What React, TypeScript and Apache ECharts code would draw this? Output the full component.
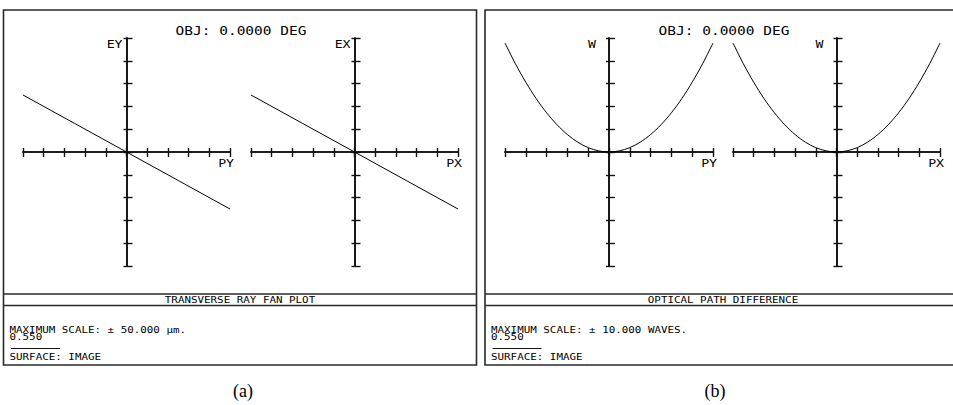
import React, { useEffect, useRef } from "react";
import * as echarts from "echarts";

// Normalised pupil coordinates for the transverse ray fans
const fanPupil = [-1, -0.5, 0, 0.5, 1];
// Transverse ray error (µm) along the tangential and sagittal fans
const eyValues = [25, 12.5, 0, -12.5, -25];
const exValues = [25, 12.5, 0, -12.5, -25];

// Normalised pupil coordinates for the OPD fans
const opdPupil = [-1, -0.9, -0.8, -0.7, -0.6, -0.5, -0.4, -0.3, -0.2, -0.1, 0, 0.1, 0.2, 0.3, 0.4, 0.5, 0.6, 0.7, 0.8, 0.9, 1];
// Optical path difference (waves) along the tangential and sagittal fans
const wyValues = [9.56, 7.74, 6.12, 4.68, 3.44, 2.39, 1.53, 0.86, 0.38, 0.1, 0, 0.1, 0.38, 0.86, 1.53, 2.39, 3.44, 4.68, 6.12, 7.74, 9.56];
const wxValues = [9.56, 7.74, 6.12, 4.68, 3.44, 2.39, 1.53, 0.86, 0.38, 0.1, 0, 0.1, 0.38, 0.86, 1.53, 2.39, 3.44, 4.68, 6.12, 7.74, 9.56];

// Axis scales
const pupilMax = 1;
const pupilStep = 0.2;
const rayFanMax = 50;
const rayFanStep = 10;
const opdMax = 10;
const opdStep = 2;

// Texts
const headerText = "OBJ: 0.0000 DEG";
const rayFanTitle = "TRANSVERSE RAY FAN PLOT";
const opdTitle = "OPTICAL PATH DIFFERENCE";
const rayFanScale = "MAXIMUM SCALE: \u00B1 50.000 \u00B5m.";
const opdScale = "MAXIMUM SCALE: \u00B1 10.000 WAVES.";
const wavelengthText = "0.550";
const surfaceText = "SURFACE: IMAGE";
const fanAxisNames = [
  ["EY", "PY"],
  ["EX", "PX"],
  ["W", "PY"],
  ["W", "PX"],
];
const captions = ["(a)", "(b)"];

const MONO = "'DejaVu Sans Mono', monospace";
const INK = "#000";
const FRAME = "#2a2a2a";

function pairs(xs: number[], ys: number[]) {
  return xs.map((x, i) => [x, ys[i]]);
}

function txt(
  text: string,
  x: number,
  y: number,
  size: number,
  align: "left" | "center" | "right",
  scaleX: number,
  family: string = MONO
) {
  return {
    type: "text",
    x,
    y,
    scaleX,
    silent: true,
    style: {
      text,
      fontFamily: family,
      fontSize: size,
      fill: INK,
      textAlign: align,
      textVerticalAlign: "middle",
    },
  };
}

function hline(x1: number, x2: number, y: number, width = 1.6, color = FRAME) {
  return {
    type: "line",
    silent: true,
    shape: { x1, y1: y, x2, y2: y },
    style: { stroke: color, lineWidth: width },
  };
}

export default function App() {
  const ref = useRef<HTMLDivElement>(null);

  useEffect(() => {
    if (!ref.current) return;
    const chart = echarts.init(ref.current, null, { renderer: "svg" });

    const plotTop = 38;
    const plotHeight = 228;
    const plots = [
      { left: 23, width: 207, max: rayFanMax, step: rayFanStep, xs: fanPupil, ys: eyValues, smooth: false },
      { left: 251, width: 207, max: rayFanMax, step: rayFanStep, xs: fanPupil, ys: exValues, smooth: false },
      { left: 505, width: 208, max: opdMax, step: opdStep, xs: opdPupil, ys: wyValues, smooth: true },
      { left: 733, width: 207, max: opdMax, step: opdStep, xs: opdPupil, ys: wxValues, smooth: true },
    ];

    const axisLineStyle = { color: "#111", width: 1.6 };
    const tickStyle = { color: "#111", width: 1.4 };

    const grid: any[] = [];
    const xAxis: any[] = [];
    const yAxis: any[] = [];
    const series: any[] = [];

    plots.forEach((p, i) => {
      grid.push({ left: p.left, top: plotTop, width: p.width, height: plotHeight });
      const xBase = {
        gridIndex: i,
        type: "value",
        min: -pupilMax,
        max: pupilMax,
        interval: pupilStep,
        axisLabel: { show: false },
        splitLine: { show: false },
      };
      // downward and upward ticks on the pupil axis
      xAxis.push({
        ...xBase,
        position: "bottom",
        axisLine: { onZero: true, onZeroAxisIndex: 2 * i, lineStyle: axisLineStyle },
        axisTick: { show: true, length: 5, lineStyle: tickStyle },
      });
      xAxis.push({
        ...xBase,
        position: "top",
        axisLine: { onZero: true, onZeroAxisIndex: 2 * i, lineStyle: axisLineStyle },
        axisTick: { show: true, length: 4, lineStyle: tickStyle },
      });
      const yBase = {
        gridIndex: i,
        type: "value",
        min: -p.max,
        max: p.max,
        interval: p.step,
        axisLabel: { show: false },
        splitLine: { show: false },
      };
      // right-hand and left-hand ticks on the aberration axis
      yAxis.push({
        ...yBase,
        position: "right",
        axisLine: { onZero: true, onZeroAxisIndex: 2 * i, lineStyle: axisLineStyle },
        axisTick: { show: true, length: 6, lineStyle: tickStyle },
      });
      yAxis.push({
        ...yBase,
        position: "left",
        axisLine: { onZero: true, onZeroAxisIndex: 2 * i, lineStyle: axisLineStyle },
        axisTick: { show: true, length: 3, lineStyle: tickStyle },
      });
      series.push({
        type: "line",
        xAxisIndex: 2 * i,
        yAxisIndex: 2 * i,
        data: pairs(p.xs, p.ys),
        symbol: "none",
        smooth: p.smooth ? 0.3 : false,
        lineStyle: { color: INK, width: 1 },
        silent: true,
      });
    });

    // axis names placed beside the axis ends
    const nameEls: any[] = [];
    plots.forEach((p, i) => {
      const centerX = p.left + p.width / 2;
      const [yName, xName] = fanAxisNames[i];
      const yNameGap = i >= 2 ? 13 : 4;
      nameEls.push(txt(yName, centerX - yNameGap, 44, 11, "right", 1.2));
      nameEls.push(txt(xName, p.left + p.width + 4, 163.5, 11, "right", 1.2));
    });

    const panels = [
      { x0: 3.5, x1: 476.5, cx: 240, title: rayFanTitle, scale: rayFanScale, textX: 9.5, capX: 243 },
      { x0: 485, x1: 990, cx: 723, title: opdTitle, scale: opdScale, textX: 491, capX: 715 },
    ];
    const panelEls: any[] = [];
    panels.forEach((pn, k) => {
      panelEls.push({
        type: "rect",
        silent: true,
        shape: { x: pn.x0, y: 10, width: pn.x1 - pn.x0, height: 355 },
        style: { fill: "none", stroke: FRAME, lineWidth: 1.6 },
      });
      panelEls.push(hline(pn.x0, pn.x1, 294));
      panelEls.push(hline(pn.x0, pn.x1, 305.5));
      panelEls.push(txt(headerText, pn.cx + 1, 31.5, 11.5, "center", 1.26));
      panelEls.push(txt(pn.title, pn.cx, 300, 8, "center", 1.36));
      panelEls.push(txt(pn.scale, pn.textX, 330, 8, "left", 1.36));
      panelEls.push(txt(wavelengthText, pn.textX, 337.5, 8, "left", 1.36));
      panelEls.push(hline(pn.textX + 1.5, pn.textX + 50.5, 348.5, 1.2, "#111"));
      panelEls.push(txt(surfaceText, pn.textX, 357, 8, "left", 1.36));
      panelEls.push(txt(captions[k], pn.capX, 391, 18, "center", 1, "'Liberation Serif', 'Times New Roman', serif"));
    });

    chart.setOption({
      animation: false,
      backgroundColor: "#fff",
      grid,
      xAxis,
      yAxis,
      series,
      graphic: { elements: [...panelEls, ...nameEls] },
    });

    return () => chart.dispose();
  }, []);

  return (
    <div
      ref={ref}
      style={{ position: "absolute", left: 0, top: 0, width: 953, height: 405, background: "#fff" }}
    />
  );
}
